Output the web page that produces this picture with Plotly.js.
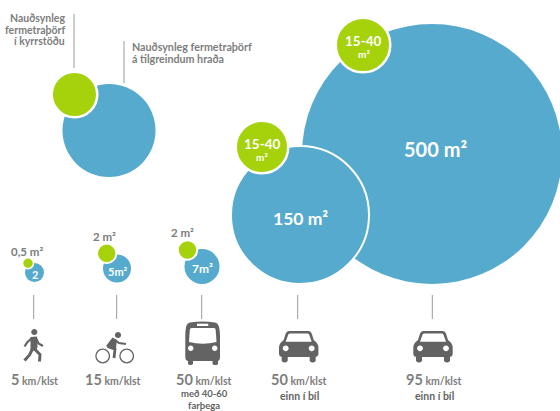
<!DOCTYPE html>
<html><head><meta charset="utf-8">
<script src="https://cdn.plot.ly/plotly-3.0.1.min.js"></script>
<style>html,body{margin:0;padding:0;background:#fff}#c{width:560px;height:411px}</style></head>
<body><div id="c"></div>
<script>
const BLUE='#55AACE', GREEN='#A5D20A', GREY='#7D7D7D', DARK='#636363';
// circles, painted in this order
const circleX=[432,300,363,262,109,74.5,34.5,28,117,106.7,202,187.5];
const circleY=[154,215,45,147,130.5,94.5,272.5,263.3,268.5,253.3,266.5,250];
const circleR=[130,68,26,25,46.5,21.5,9.5,4.7,14,8.7,17.5,8.7];
const circleKind=['b','b','g','g','b','g','b','g','b','g','b','g'];
const ringW=[0,2,2.5,2.5,0,2.5,0,1.5,0,2,0,2];
// leader lines
const leadX=[74,124,33.7,116.7,201.7,297.7,432.3];
const leadTop=[14,41,295,295,295,295,295];
const leadBot=[68,83,319,319,319,319,319];
// labels: white inside circles
const inX=[435,300.5,363.5,262,35,117.5,202.5];
const inY=[149,218,41,144,274,271,268.5];
const inT=['500 m²','150 m²','15-40','15-40','2','5m²','7m²'];
const inS=[20,17.5,13.5,13.5,11,11,12];
const in2X=[363.5,262]; const in2Y=[54,156.5]; const in2T=['m²','m²'];
const areaX=[26.5,104,182.5]; const areaY=[251,236,232]; const areaT=['0,5 m²','2 m²','2 m²'];
const speedX=[34.5,113,204,299,434]; const speedT=['5','15','50','50','95'];
const noteX=[204,204,299,434]; const noteY=[393.5,405,395.5,395.5]; const noteT=['með 40-60','farþega','einn í bíl','einn í bíl'];
const noteS=[9.5,9.5,10.5,10.5];

const xs=[],ys=[];
leadX.forEach((x,i)=>{xs.push(x,x,null);ys.push(leadTop[i],leadBot[i],null);});
const traces=[
 {type:'scatter',mode:'lines',x:xs,y:ys,line:{color:'#9A9A9A',width:1},hoverinfo:'skip'},
 {type:'scatter',mode:'markers',x:circleX,y:circleY,hoverinfo:'skip',
  marker:{size:circleR.map((r,i)=>2*r+ringW[i]),color:circleKind.map(k=>k==='b'?BLUE:GREEN),opacity:1,
   line:{color:'#fff',width:ringW}}}
];
const ann=[];
function T(x,y,t,s,c,a){ann.push({x,y,text:t,showarrow:false,xref:'x',yref:'y',xanchor:a||'center',yanchor:'middle',align:a||'center',
  font:{family:'Lato',size:s,color:c},borderpad:0});}
const B=t=>'<b>'+t+'</b>';
inX.forEach((x,i)=>T(x,inY[i],B(inT[i]),inS[i],'#fff'));
in2X.forEach((x,i)=>T(x,in2Y[i],B(in2T[i]),10,'#fff'));
areaX.forEach((x,i)=>T(x,areaY[i],B(areaT[i]),11.5,GREY));
speedX.forEach((x,i)=>T(x,379,B(speedT[i])+'<b><span style="font-size:10.5px"> km/klst</span></b>',14.5,GREY));
noteX.forEach((x,i)=>T(x,noteY[i],B(noteT[i]),noteS[i],DARK));
T(65.7,18,B('Nauðsynleg'),10.5,GREY,'right');
T(65.7,29.5,B('fermetraþörf'),10.5,GREY,'right');
T(65.7,41,B('í kyrrstöðu'),10.5,GREY,'right');
T(131,46.5,B('Nauðsynleg fermetraþörf'),10.7,GREY,'left');
T(131,58.5,B('á tilgreindum hraða'),10.7,GREY,'left');

// pictograms, drawn in local units and moved into place
function circ(cx,cy,r){const k=0.5523*r;
 return `M${cx-r},${cy}C${cx-r},${cy-k} ${cx-k},${cy-r} ${cx},${cy-r}C${cx+k},${cy-r} ${cx+r},${cy-k} ${cx+r},${cy}C${cx+r},${cy+k} ${cx+k},${cy+r} ${cx},${cy+r}C${cx-k},${cy+r} ${cx-r},${cy+k} ${cx-r},${cy}Z`;}
const shapes=[];
function icon(path,opt){shapes.push(Object.assign({type:'path',xref:'x',yref:'y',path,fillcolor:DARK,line:{width:0},layer:'above'},opt||{}));}
function stroke(path,w){shapes.push({type:'path',xref:'x',yref:'y',path,line:{color:DARK,width:w},layer:'above'});}
const W={fillcolor:'#fff'};
// walker
icon(circ(34.3,332,3.1));
icon('M30.5,337 L37,336.5 L37.5,347 L36,351 L30.5,350Z');
stroke('M32,338 L27.5,342 L24.5,346.5',2.2);
stroke('M36,338 L38.5,343.5 L43,346',2.2);
stroke('M32.5,349 L29.5,355 L24.5,360.5',3);
stroke('M34.5,349 L40,354.5 L39.5,361.5',3);
// cyclist
stroke(circ(102.7,356,6.8),1.3);
stroke(circ(126.7,356,6.8),1.3);
icon(circ(118,335,3.1));
icon('M112.5,337.5 L117,340 L116,348 L113,349 L106,346Z');
stroke('M115,340 L119,343 L126,344',2);
stroke('M107.5,346.5 L115,349.3 L114,358',2.8);
// bus
icon('M190,322.5 Q187,323 186,327 Q185.3,331 185.3,336 L185.3,357 Q185.3,360.5 188,361 L188,363.5 Q188,365 190.5,365 Q193,365 193,363.5 L193,361 L212.5,361 L212.5,363.5 Q212.5,365 215,365 Q218,365 218,363.5 L218,361 Q220,360.5 220,357 L220,336 Q220,331 219,327 Q218,323 215,322.5 Q202.7,320.5 190,322.5Z');
icon('M191.5,328 L214,328 Q215.5,328 215.7,330 L216.5,342 Q202.7,345.5 189,342 L189.8,330 Q190,328 191.5,328Z',W);
icon('M197,323.7 L208.3,323.7 L208.3,326 L197,326Z',W);
icon(circ(190.7,348.3,2.7),W);
icon(circ(214.7,348.3,2.7),W);
// cars
[298.7,433].forEach(cx=>{
 const p=d=>(cx+d).toFixed(1);
 icon(`M${p(-10)},331 L${p(10)},331 Q${p(12)},331 ${p(13)},333.5 L${p(15)},340 Q${p(19.7)},343 ${p(19.7)},348 L${p(19.7)},354 Q${p(19.7)},356.5 ${p(17)},357 L${p(17)},361 Q${p(14)},364 ${p(11)},361 L${p(11)},357 L${p(-11)},357 L${p(-11)},361 Q${p(-14)},364 ${p(-17)},361 L${p(-17)},357 Q${p(-19.7)},356.5 ${p(-19.7)},354 L${p(-19.7)},348 Q${p(-19.7)},343 ${p(-15)},340 L${p(-13)},333.5 Q${p(-12)},331 ${p(-10)},331Z`);
 icon(`M${p(-13)},341.7 L${p(-10.5)},334.8 Q${p(-10)},333.5 ${p(-8.5)},333.5 L${p(8.5)},333.5 Q${p(10)},333.5 ${p(10.5)},334.8 L${p(13)},341.7Z`,W);
 icon(circ(cx-13,348.3,2.9),W);
 icon(circ(cx+13,348.3,2.9),W);
});

Plotly.newPlot('c',traces,{
 width:560,height:411,margin:{l:0,r:0,t:0,b:0},paper_bgcolor:'#fff',plot_bgcolor:'#fff',showlegend:false,
 xaxis:{range:[0,560],visible:false,fixedrange:true},
 yaxis:{range:[411,0],visible:false,fixedrange:true},
 annotations:ann,shapes
},{displayModeBar:false,staticPlot:true});
</script></body></html>
